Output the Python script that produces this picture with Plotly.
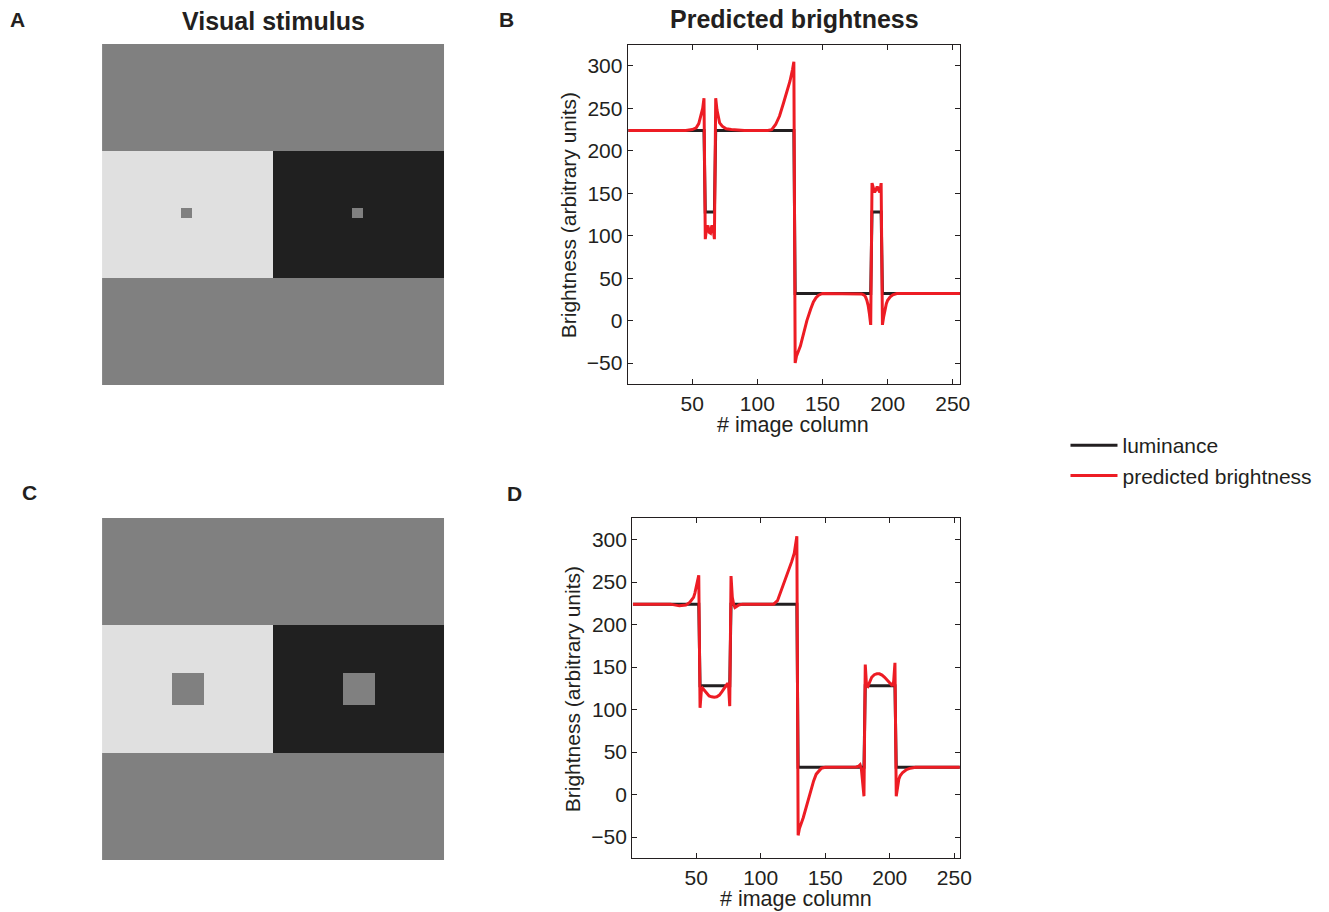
import numpy as np
import plotly.graph_objects as go

W, H = 1329, 912
# horizontal positions come out ~1% narrower than requested in the viewer; calibrate
X_SCALE = 1316.4

# ---------------- stimulus description ----------------
IMG_SIZE = 256
background_level = 128
left_level = 224
right_level = 32
patch_level = 128
band_rows = [80, 176]          # rows of the light/dark band (0-indexed, end exclusive)
split_col = 128                # column where light half turns to dark half
# patches: (row_start, col_start, size)
patches_A = [(123, 59, 8), (123, 187, 8)]
patches_C = [(116, 52, 24), (116, 180, 24)]
profile_row = 127              # row whose luminance is plotted

# ---------------- predicted brightness ----------------
pred_B_x = [1, 45, 50, 53, 55, 56, 57, 58, 59,
            60, 61, 62, 63, 64, 65, 66, 67,
            68, 69, 70, 71, 73, 76, 80, 90, 108, 111, 114, 117, 120, 123, 125, 127, 128,
            129, 130, 133, 136, 138, 141, 143, 145, 147, 150, 160, 178, 180, 182, 183, 184, 185, 186, 187,
            188, 189, 190, 191, 192, 193, 194, 195,
            196, 197, 198, 199, 200, 202, 204, 207, 215, 256]
pred_B_y = [224, 224, 225, 227, 232, 237, 242, 250, 262,
            96, 109, 112, 104, 103, 112, 109, 96,
            262, 248, 238, 233, 229, 226, 225, 224, 224, 225, 231, 241, 256, 270, 282, 296, 305,
            -50, -42, -30, -12, 0, 14, 22, 27, 30, 32, 32, 32, 31.5, 30, 28, 24, 18, 8, -5,
            162, 156, 151, 154, 158, 154, 151, 162,
            -5, 5, 14, 20, 24, 28, 30.5, 32, 32, 32]

pred_D_x = [1, 30, 37, 42, 45, 48, 49, 50, 51, 52,
            53, 54, 55, 56, 58, 60, 62, 64, 66, 68, 70, 72, 74, 75, 76,
            77, 78, 79, 80, 81, 83, 86, 100, 110, 113, 115, 118, 121, 124, 126, 127, 128,
            129, 130, 133, 136, 138, 141, 143, 145, 147, 150, 160, 174, 176, 177, 178, 179, 180,
            181, 182, 183, 184, 186, 188, 190, 192, 194, 196, 198, 200, 202, 203, 204,
            205, 206, 207, 208, 210, 213, 216, 220, 256]
pred_D_y = [224, 224, 222, 223, 226, 232, 237, 243, 250, 258,
            102, 122, 125, 123, 119, 116, 115, 114.5, 115, 117, 121, 126, 130, 130, 104,
            257, 232, 224, 220, 221, 223, 224, 224, 224, 228, 236, 248, 262, 274, 284, 293, 304,
            -48, -40, -27, -10, 2, 16, 24, 28, 31, 32, 32, 32.5, 33.5, 35, 30, 15, -2,
            153, 128, 127, 131, 138, 141, 142, 142, 140.5, 138, 135, 131, 128, 133, 155,
            -2, 12, 18, 22, 26, 29.5, 31, 32, 32]

x_ticks = [50, 100, 150, 200, 250]
y_ticks = [-50, 0, 50, 100, 150, 200, 250, 300]

# ---------------- build images ----------------
def build_image(patches):
    img = np.full((IMG_SIZE, IMG_SIZE), background_level, dtype=float)
    img[band_rows[0]:band_rows[1], :split_col] = left_level
    img[band_rows[0]:band_rows[1], split_col:] = right_level
    for r, c, s in patches:
        img[r:r + s, c:c + s] = patch_level
    return img

img_A = build_image(patches_A)
img_C = build_image(patches_C)
cols = np.arange(1, IMG_SIZE + 1)
lum_B = img_A[profile_row]
lum_D = img_C[profile_row]

FONT = "Liberation Sans, Arial, Helvetica, sans-serif"
TXT = "#231f20"
RED = "#ed1c24"
BLACK = "#231f20"

def px_x(p):
    return p / X_SCALE

def px_y(p):
    return 1 - p / H

fig = go.Figure()

gray = [[0, "rgb(0,0,0)"], [1, "rgb(255,255,255)"]]
fig.add_trace(go.Heatmap(z=img_A, x=cols, y=cols, colorscale=gray, zmin=0, zmax=255,
                         showscale=False, hoverinfo="skip", xaxis="x", yaxis="y"))
fig.add_trace(go.Heatmap(z=img_C, x=cols, y=cols, colorscale=gray, zmin=0, zmax=255,
                         showscale=False, hoverinfo="skip", xaxis="x3", yaxis="y3"))

fig.add_trace(go.Scatter(x=cols, y=lum_B, mode="lines", line=dict(color=BLACK, width=3),
                         name="luminance", legendgroup="lum", showlegend=True,
                         xaxis="x2", yaxis="y2"))
fig.add_trace(go.Scatter(x=pred_B_x, y=pred_B_y, mode="lines", line=dict(color=RED, width=3),
                         name="predicted brightness", legendgroup="pred", showlegend=True,
                         xaxis="x2", yaxis="y2"))
fig.add_trace(go.Scatter(x=cols, y=lum_D, mode="lines", line=dict(color=BLACK, width=3),
                         name="luminance", legendgroup="lum", showlegend=False,
                         xaxis="x4", yaxis="y4"))
fig.add_trace(go.Scatter(x=pred_D_x, y=pred_D_y, mode="lines", line=dict(color=RED, width=3),
                         name="predicted brightness", legendgroup="pred", showlegend=False,
                         xaxis="x4", yaxis="y4"))

img_axis = dict(visible=False, fixedrange=True)
plot_axis = dict(showline=True, linecolor=TXT, linewidth=1.2, mirror="ticks",
                 ticks="inside", ticklen=5, tickwidth=1, tickcolor=TXT,
                 showgrid=False, zeroline=False, fixedrange=True,
                 tickfont=dict(family=FONT, size=21, color=TXT))

fig.update_layout(
    width=W, height=H,
    margin=dict(l=0, r=0, t=0, b=0),
    paper_bgcolor="white", plot_bgcolor="white",
    font=dict(family=FONT, size=21, color=TXT),
    xaxis=dict(domain=[px_x(102), px_x(444)], range=[0.5, 256.5], anchor="y", **img_axis),
    yaxis=dict(domain=[px_y(385), px_y(44)], range=[256.5, 0.5], anchor="x", **img_axis),
    xaxis3=dict(domain=[px_x(102), px_x(444)], range=[0.5, 256.5], anchor="y3", **img_axis),
    yaxis3=dict(domain=[px_y(860), px_y(518)], range=[256.5, 0.5], anchor="x3", **img_axis),
    xaxis2=dict(domain=[px_x(627.5), px_x(959.5)], range=[0.5, 255.5], anchor="y2",
                tickvals=x_ticks, **plot_axis),
    yaxis2=dict(domain=[px_y(384.3), px_y(44.7)], range=[-75, 325], anchor="x2",
                tickvals=y_ticks, **plot_axis),
    xaxis4=dict(domain=[px_x(632), px_x(959.3)], range=[0.5, 254.2], anchor="y4",
                tickvals=x_ticks, **plot_axis),
    yaxis4=dict(domain=[px_y(858.3), px_y(518.3)], range=[-75, 325], anchor="x4",
                tickvals=y_ticks, **plot_axis),
    showlegend=True,
    legend=dict(x=px_x(1065), y=px_y(425), xanchor="left", yanchor="top",
                font=dict(family=FONT, size=21, color=TXT), bgcolor="rgba(0,0,0,0)",
                tracegroupgap=0, itemwidth=47),
)

annotations = [
    dict(text="<b>Visual stimulus</b>", x=px_x(273), y=px_y(21), size=25),
    dict(text="<b>Predicted brightness</b>", x=px_x(794), y=px_y(19), size=25),
    dict(text="<b>A</b>", x=px_x(17), y=px_y(20), size=21),
    dict(text="<b>B</b>", x=px_x(506), y=px_y(20), size=21),
    dict(text="<b>C</b>", x=px_x(29), y=px_y(492), size=21),
    dict(text="<b>D</b>", x=px_x(514), y=px_y(493), size=21),
    dict(text="# image column", x=px_x(793), y=px_y(425), size=21.5),
    dict(text="# image column", x=px_x(796), y=px_y(899), size=21.5),
]
for a in annotations:
    fig.add_annotation(text=a["text"], x=a["x"], y=a["y"], xref="paper", yref="paper",
                       xanchor="center", yanchor="middle", showarrow=False,
                       font=dict(family=FONT, size=a["size"], color=TXT))
for xc, yc in [(568, 215), (572, 689)]:
    fig.add_annotation(text="Brightness (arbitrary units)", x=px_x(xc), y=px_y(yc),
                       xref="paper", yref="paper", xanchor="center", yanchor="middle",
                       textangle=-90, showarrow=False,
                       font=dict(family=FONT, size=21, color=TXT))

fig.write_html(
    "out.html",
    config={"displayModeBar": False},
    post_script="document.body.style.margin='0px';document.body.style.overflow='hidden';",
)
